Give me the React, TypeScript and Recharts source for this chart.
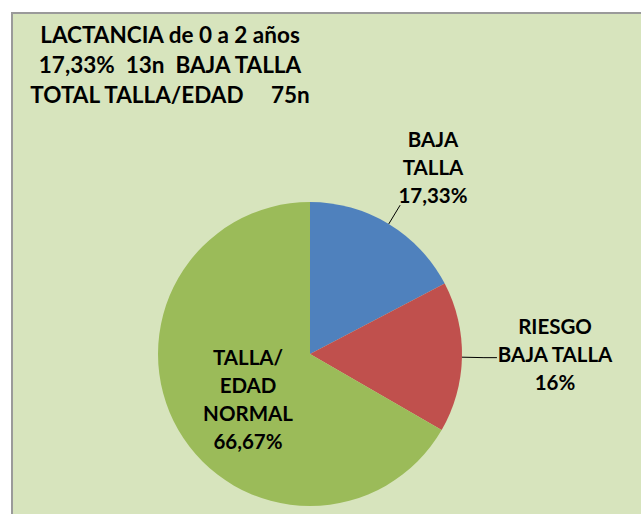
import React from "react";
import { PieChart, Pie, Cell } from "recharts";

// ── Data ─────────────────────────────────────────────────────────────────────

const categories = ["BAJA TALLA", "RIESGO BAJA TALLA", "TALLA/EDAD NORMAL"];
const counts = [13, 12, 50];
const percentLabels = ["17,33%", "16%", "66,67%"];
const labelLines = [
  ["BAJA", "TALLA", "17,33%"],
  ["RIESGO", "BAJA TALLA", "16%"],
  ["TALLA/", "EDAD", "NORMAL", "66,67%"],
];
const titleLines = [
  "LACTANCIA de 0 a 2 años",
  "17,33%  13n  BAJA TALLA",
  "TOTAL TALLA/EDAD     75n",
];

const colors = ["#4F81BD", "#C0504D", "#9BBB59"];

const data = categories.map((name, i) => ({
  name,
  value: counts[i],
  pct: percentLabels[i],
}));

// label placement relative to the pie centre (Excel "best fit" positions)
const labelPos = [
  { dx: 123, dy: -215, leader: true, tail: 0 },
  { dx: 245, dy: -28, leader: true, tail: 13 },
  { dx: -62, dy: 3, leader: false, tail: 0 },
];

const FONT = "Lato, 'Open Sans', sans-serif";
const LINE_H = 28;

const renderLabel = (props: any) => {
  const { cx, cy, midAngle, outerRadius, index } = props;
  const pos = labelPos[index];
  const lines = labelLines[index];
  const rad = Math.PI / 180;
  const cos = Math.cos(-midAngle * rad);
  const sin = Math.sin(-midAngle * rad);
  const sx = cx + outerRadius * cos;
  const sy = cy + outerRadius * sin;
  const ex = cx + (outerRadius + 22) * cos;
  const ey = cy + (outerRadius + 22) * sin;
  const tx = cx + pos.dx;
  const ty = cy + pos.dy;
  return (
    <g key={`lbl-${index}`}>
      {pos.leader && (
        <polyline
          points={`${sx},${sy} ${ex},${ey} ${ex + pos.tail},${ey}`}
          fill="none"
          stroke="#000"
          strokeWidth={1}
        />
      )}
      {lines.map((t, i) => (
        <text
          key={i}
          x={tx}
          y={ty + i * LINE_H}
          textAnchor="middle"
          dominantBaseline="central"
          fontFamily={FONT}
          fontWeight={700}
          fontSize={20.5}
          fill="#000"
        >
          {t}
        </text>
      ))}
    </g>
  );
};

export default function App() {
  return (
    <div
      style={{
        position: "absolute",
        left: 0,
        top: 0,
        width: 641,
        height: 514,
        background: "#fff",
        overflow: "hidden",
      }}
    >
      {/* chart area */}
      <div
        style={{
          position: "absolute",
          left: 11,
          top: 12,
          width: 660,
          height: 540,
          background: "#D7E4BD",
          border: "2px solid #9A9A9A",
        }}
      />
      {/* title */}
      <div
        style={{
          position: "absolute",
          left: 20,
          top: 20,
          width: 300,
          textAlign: "center",
          whiteSpace: "pre",
          fontFamily: FONT,
          fontWeight: 700,
          fontSize: 22.5,
          lineHeight: "30px",
          color: "#000",
        }}
      >
        {titleLines.map((t, i) => (
          <div key={i}>{t}</div>
        ))}
      </div>
      <div style={{ position: "absolute", left: 0, top: 0 }}>
        <PieChart
          width={641}
          height={514}
          margin={{ top: 0, right: 0, bottom: 0, left: 0 }}
        >
          <Pie
            data={data}
            dataKey="value"
            nameKey="name"
            cx={310}
            cy={354}
            outerRadius={152}
            startAngle={90}
            endAngle={-270}
            stroke="none"
            label={renderLabel}
            labelLine={false}
            isAnimationActive={false}
          >
            {data.map((d, i) => (
              <Cell key={d.name} fill={colors[i]} />
            ))}
          </Pie>
        </PieChart>
      </div>
    </div>
  );
}
